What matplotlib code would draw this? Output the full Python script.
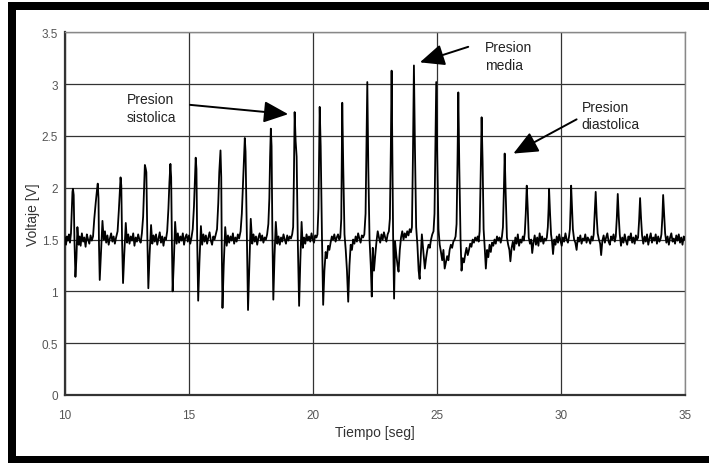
import matplotlib
matplotlib.use('Agg')
import matplotlib.pyplot as plt
from matplotlib.patches import Rectangle

plt.rcParams['font.family'] = ['Liberation Sans', 'DejaVu Sans']

# senal oscilometrica (tiempo en s, voltaje en V), un renglon por latido
tiempo = [
    10.00, 10.04, 10.08, 10.12, 10.16, 10.20, 10.24, 10.27, 10.30, 10.32, 10.35, 10.38, 10.42, 10.46, 10.50, 10.55, 10.59,
    10.63, 10.68, 10.73, 10.78, 10.83, 10.88, 10.93, 10.98, 11.03, 11.08, 11.13, 11.18, 11.24, 11.29, 11.32, 11.35, 11.37, 11.40, 11.45, 11.51, 11.56, 11.61,
    11.66, 11.71, 11.76, 11.81, 11.86, 11.91, 11.96, 12.01, 12.06, 12.12, 12.17, 12.21, 12.24, 12.27, 12.30, 12.34, 12.39, 12.45, 12.50, 12.55,
    12.60, 12.65, 12.70, 12.75, 12.80, 12.85, 12.90, 12.95, 13.00, 13.05, 13.10, 13.15, 13.19, 13.22, 13.25, 13.28, 13.32, 13.36, 13.41, 13.47, 13.52, 13.57,
    13.62, 13.67, 13.72, 13.77, 13.82, 13.87, 13.92, 13.97, 14.02, 14.07, 14.12, 14.17, 14.21, 14.25, 14.28, 14.31, 14.34, 14.39, 14.44, 14.50, 14.55,
    14.60, 14.65, 14.70, 14.75, 14.80, 14.85, 14.90, 14.95, 15.00, 15.05, 15.10, 15.15, 15.20, 15.24, 15.27, 15.30, 15.33, 15.37, 15.42, 15.48, 15.53, 15.58,
    15.63, 15.68, 15.73, 15.78, 15.83, 15.88, 15.93, 15.98, 16.03, 16.08, 16.13, 16.18, 16.22, 16.27, 16.30, 16.32, 16.35, 16.40, 16.46, 16.52, 16.57,
    16.62, 16.67, 16.72, 16.77, 16.82, 16.87, 16.92, 16.97, 17.02, 17.08, 17.13, 17.18, 17.22, 17.25, 17.28, 17.33, 17.38, 17.43, 17.49, 17.55, 17.60,
    17.65, 17.70, 17.75, 17.80, 17.85, 17.90, 17.95, 18.00, 18.05, 18.10, 18.15, 18.20, 18.24, 18.27, 18.30, 18.33, 18.36, 18.40, 18.45, 18.50, 18.56, 18.61,
    18.66, 18.71, 18.76, 18.81, 18.86, 18.91, 18.96, 19.01, 19.06, 19.11, 19.16, 19.20, 19.23, 19.26, 19.30, 19.34, 19.39, 19.44, 19.49, 19.54, 19.59,
    19.64, 19.69, 19.74, 19.79, 19.84, 19.89, 19.94, 19.99, 20.04, 20.09, 20.14, 20.18, 20.22, 20.25, 20.27, 20.31, 20.36, 20.41, 20.46, 20.51, 20.56, 20.61, 20.66,
    20.71, 20.76, 20.81, 20.86, 20.91, 20.96, 21.01, 21.06, 21.10, 21.14, 21.18, 21.22, 21.27, 21.32, 21.37, 21.42, 21.47, 21.52, 21.57, 21.62,
    21.67, 21.72, 21.77, 21.82, 21.87, 21.92, 21.97, 22.02, 22.07, 22.12, 22.16, 22.19, 22.23, 22.28, 22.33, 22.37, 22.41, 22.46, 22.51, 22.56, 22.61, 22.66,
    22.71, 22.76, 22.81, 22.86, 22.91, 22.96, 23.01, 23.06, 23.10, 23.14, 23.17, 23.20, 23.23, 23.27, 23.31, 23.36, 23.41, 23.45, 23.50, 23.55, 23.60,
    23.65, 23.70, 23.75, 23.80, 23.85, 23.90, 23.95, 23.99, 24.03, 24.07, 24.11, 24.16, 24.21, 24.26, 24.30, 24.35, 24.39, 24.45, 24.51, 24.56, 24.61, 24.66, 24.71, 24.76,
    24.81, 24.86, 24.90, 24.94, 24.97, 25.01, 25.06, 25.11, 25.16, 25.21, 25.26, 25.31, 25.36, 25.41, 25.46, 25.51, 25.56, 25.61, 25.66,
    25.71, 25.75, 25.79, 25.83, 25.86, 25.90, 25.95, 25.99, 26.04, 26.09, 26.14, 26.19, 26.24, 26.29, 26.34, 26.39, 26.44, 26.49, 26.54, 26.59, 26.64,
    26.68, 26.72, 26.76, 26.80, 26.84, 26.88, 26.93, 26.97, 27.02, 27.07, 27.12, 27.17, 27.22, 27.27, 27.32, 27.37, 27.42, 27.47, 27.52,
    27.57, 27.62, 27.66, 27.70, 27.73, 27.77, 27.82, 27.87, 27.92, 27.96, 28.01, 28.06, 28.11, 28.16, 28.21, 28.26, 28.31, 28.36, 28.41, 28.46,
    28.50, 28.54, 28.58, 28.62, 28.66, 28.70, 28.75, 28.80, 28.84, 28.89, 28.94, 28.99, 29.04, 29.09, 29.14, 29.19, 29.24, 29.29, 29.34, 29.39,
    29.43, 29.47, 29.50, 29.52, 29.56, 29.60, 29.64, 29.68, 29.73, 29.78, 29.83, 29.88, 29.93, 29.98, 30.03, 30.08, 30.13, 30.18, 30.23, 30.28,
    30.32, 30.36, 30.39, 30.41, 30.44, 30.48, 30.53, 30.58, 30.63, 30.68, 30.73, 30.78, 30.83, 30.88, 30.93, 30.98, 31.03, 31.08, 31.13, 31.18, 31.23, 31.28,
    31.32, 31.36, 31.40, 31.44, 31.48, 31.53, 31.58, 31.62, 31.67, 31.72, 31.77, 31.82, 31.87, 31.92, 31.97, 32.02, 32.07, 32.12, 32.17,
    32.21, 32.25, 32.29, 32.33, 32.37, 32.42, 32.47, 32.52, 32.57, 32.62, 32.67, 32.72, 32.77, 32.82, 32.87, 32.92, 32.97, 33.02, 33.07,
    33.11, 33.15, 33.19, 33.23, 33.27, 33.32, 33.37, 33.42, 33.47, 33.52, 33.57, 33.62, 33.67, 33.72, 33.77, 33.82, 33.87, 33.92, 33.97, 34.02,
    34.05, 34.09, 34.12, 34.16, 34.20, 34.25, 34.30, 34.35, 34.40, 34.45, 34.50, 34.55, 34.60, 34.65, 34.70, 34.75, 34.80, 34.85, 34.90, 34.95, 35.00,
]
voltaje = [
    1.52, 1.45, 1.53, 1.49, 1.55, 1.47, 1.56, 1.75, 1.96, 1.99, 1.93, 1.50, 1.14, 1.32, 1.62, 1.45, 1.53,
    1.44, 1.56, 1.48, 1.52, 1.43, 1.55, 1.50, 1.46, 1.54, 1.49, 1.53, 1.70, 1.86, 1.98, 2.04, 1.90, 1.45, 1.11, 1.38, 1.68, 1.50, 1.58,
    1.47, 1.54, 1.45, 1.51, 1.56, 1.48, 1.53, 1.46, 1.52, 1.58, 1.78, 1.97, 2.10, 2.02, 1.50, 1.08, 1.36, 1.66, 1.47, 1.55,
    1.46, 1.53, 1.49, 1.56, 1.44, 1.52, 1.48, 1.55, 1.50, 1.47, 1.56, 1.72, 2.02, 2.22, 2.19, 2.15, 1.52, 1.03, 1.35, 1.64, 1.46, 1.54,
    1.48, 1.55, 1.45, 1.51, 1.57, 1.47, 1.53, 1.44, 1.52, 1.50, 1.58, 1.80, 2.05, 2.23, 2.10, 1.48, 1.00, 1.30, 1.67, 1.46, 1.56,
    1.47, 1.53, 1.49, 1.56, 1.45, 1.52, 1.55, 1.48, 1.54, 1.46, 1.52, 1.60, 1.82, 2.10, 2.29, 2.18, 1.50, 0.91, 1.28, 1.63, 1.45, 1.55,
    1.48, 1.54, 1.46, 1.52, 1.57, 1.49, 1.45, 1.53, 1.50, 1.55, 1.60, 1.85, 2.15, 2.36, 2.10, 1.45, 0.84, 1.25, 1.62, 1.44, 1.54,
    1.47, 1.53, 1.49, 1.56, 1.46, 1.52, 1.48, 1.55, 1.51, 1.58, 1.75, 2.05, 2.30, 2.48, 2.35, 1.55, 0.82, 1.22, 1.70, 1.46, 1.55,
    1.48, 1.53, 1.45, 1.52, 1.56, 1.49, 1.54, 1.47, 1.52, 1.50, 1.55, 1.65, 1.90, 2.30, 2.57, 2.40, 1.60, 0.92, 1.35, 1.67, 1.46, 1.53,
    1.45, 1.52, 1.48, 1.55, 1.50, 1.46, 1.54, 1.49, 1.53, 1.51, 1.55, 1.62, 2.10, 2.73, 2.45, 2.30, 1.45, 0.86, 1.30, 1.67, 1.42,
    1.52, 1.46, 1.55, 1.49, 1.53, 1.48, 1.56, 1.50, 1.47, 1.54, 1.52, 1.55, 1.80, 2.40, 2.78, 2.40, 1.55, 0.87, 1.20, 1.38, 1.32, 1.44, 1.40,
    1.47, 1.53, 1.50, 1.55, 1.48, 1.52, 1.55, 1.50, 1.52, 1.70, 2.82, 2.20, 1.55, 1.40, 1.20, 0.90, 1.25, 1.45, 1.40, 1.50,
    1.46, 1.53, 1.48, 1.56, 1.51, 1.47, 1.54, 1.52, 1.55, 1.75, 2.45, 3.02, 2.20, 1.50, 1.25, 0.95, 1.42, 1.20, 1.35, 1.48, 1.58, 1.52,
    1.47, 1.55, 1.50, 1.57, 1.52, 1.48, 1.55, 1.58, 1.70, 2.40, 3.13, 2.30, 1.55, 0.93, 1.48, 1.35, 1.25, 1.19, 1.40, 1.52, 1.58,
    1.50, 1.56, 1.52, 1.58, 1.54, 1.60, 1.57, 1.62, 2.30, 3.18, 2.40, 1.62, 1.45, 1.20, 1.12, 1.35, 1.55, 1.38, 1.22, 1.32, 1.40, 1.45, 1.42, 1.50,
    1.55, 1.58, 1.75, 2.50, 3.02, 2.30, 1.60, 1.45, 1.38, 1.30, 1.40, 1.22, 1.28, 1.34, 1.30, 1.40, 1.45, 1.42, 1.48,
    1.50, 1.53, 1.65, 2.30, 2.92, 2.20, 1.50, 1.20, 1.32, 1.28, 1.36, 1.42, 1.35, 1.40, 1.46, 1.43, 1.50, 1.47, 1.52, 1.49, 1.53,
    1.48, 1.58, 2.10, 2.68, 2.25, 1.60, 1.40, 1.22, 1.40, 1.33, 1.45, 1.38, 1.47, 1.44, 1.50, 1.46, 1.53, 1.49, 1.52,
    1.47, 1.53, 1.62, 2.00, 2.33, 1.95, 1.52, 1.45, 1.40, 1.29, 1.42, 1.48, 1.40, 1.52, 1.46, 1.55, 1.44, 1.50, 1.47, 1.53,
    1.49, 1.56, 1.75, 2.02, 1.80, 1.52, 1.46, 1.50, 1.37, 1.47, 1.54, 1.45, 1.52, 1.44, 1.56, 1.48, 1.53, 1.46, 1.51, 1.49,
    1.52, 1.62, 1.80, 1.99, 1.75, 1.55, 1.48, 1.36, 1.50, 1.45, 1.53, 1.47, 1.55, 1.49, 1.44, 1.52, 1.48, 1.56, 1.50, 1.47,
    1.52, 1.60, 1.82, 2.02, 1.85, 1.60, 1.50, 1.47, 1.40, 1.52, 1.48, 1.54, 1.46, 1.51, 1.49, 1.55, 1.47, 1.52, 1.50, 1.46, 1.53, 1.49,
    1.55, 1.75, 1.96, 1.72, 1.56, 1.50, 1.46, 1.35, 1.49, 1.54, 1.47, 1.52, 1.56, 1.48, 1.45, 1.53, 1.50, 1.55, 1.48,
    1.53, 1.70, 1.94, 1.72, 1.55, 1.44, 1.52, 1.47, 1.55, 1.49, 1.45, 1.53, 1.50, 1.56, 1.47, 1.52, 1.46, 1.54, 1.50,
    1.52, 1.68, 1.90, 1.70, 1.54, 1.46, 1.53, 1.48, 1.55, 1.45, 1.51, 1.56, 1.47, 1.52, 1.49, 1.55, 1.46, 1.53, 1.48, 1.51,
    1.55, 1.72, 1.93, 1.75, 1.56, 1.47, 1.53, 1.45, 1.52, 1.56, 1.48, 1.51, 1.46, 1.54, 1.49, 1.55, 1.47, 1.52, 1.45, 1.53, 1.50,
]
assert len(tiempo) == len(voltaje)

x_ticks = [10, 15, 20, 25, 30, 35]
y_ticks = [0, 0.5, 1, 1.5, 2, 2.5, 3, 3.5]
y_tick_labels = ['0', '0.5', '1', '1.5', '2', '2.5', '3', '3.5']

# etiquetas de las flechas: texto, posicion del texto, cola y punta de la flecha
notas = ['Presion\nsistolica', 'Presion\nmedia', 'Presion\ndiastolica']
notas_texto = [(12.49, 2.77), (26.94, 3.27), (30.83, 2.70)]
notas_cola = [(15.04, 2.80), (26.26, 3.36), (30.63, 2.66)]
notas_punta = [(19.00, 2.71), (24.31, 3.21), (28.08, 2.33)]

fig = plt.figure(figsize=(7.09, 4.64), dpi=100)
ax = fig.add_axes([0.0917, 0.1466, 0.8744, 0.7816])

ax.plot(tiempo, voltaje, color='black', lw=1.3, zorder=3)

ax.set_xlim(10, 35)
ax.set_ylim(0, 3.5)
ax.set_xticks(x_ticks)
ax.set_yticks(y_ticks)
ax.set_yticklabels(y_tick_labels)
ax.tick_params(length=0, labelsize=8.5, labelcolor='#555555')
ax.tick_params(axis='x', pad=10)
ax.tick_params(axis='y', pad=5)
ax.grid(True, color='#333333', lw=0.9)
ax.set_axisbelow(True)

for side in ['left', 'bottom']:
    ax.spines[side].set_color('#333333')
    ax.spines[side].set_linewidth(1.6)
for side in ['top', 'right']:
    ax.spines[side].set_color('#888888')
    ax.spines[side].set_linewidth(1.0)

ax.set_xlabel('Tiempo [seg]', fontsize=10, color='#333333', labelpad=3)
ax.set_ylabel('Voltaje [V]', fontsize=10, color='#333333', labelpad=1)

for texto, pos, cola, punta in zip(notas, notas_texto, notas_cola, notas_punta):
    ax.text(pos[0], pos[1], texto, fontsize=10, color='#222222', ha='left', va='center', linespacing=1.3)
    ax.annotate('', xy=punta, xytext=cola,
                arrowprops=dict(arrowstyle='-|>,head_length=0.75,head_width=0.33',
                                mutation_scale=20, color='black', lw=1.4,
                                shrinkA=0, shrinkB=0))

# marco negro grueso alrededor de la figura
fig.add_artist(Rectangle((0.0117, 0.9763), 0.99, 0.0166, transform=fig.transFigure, color='black', lw=0))
fig.add_artist(Rectangle((0.0117, 0.0), 0.0109, 0.993, transform=fig.transFigure, color='black', lw=0))
fig.add_artist(Rectangle((0.0117, 0.0), 0.99, 0.0144, transform=fig.transFigure, color='black', lw=0))

fig.savefig('out.png', dpi=100)
